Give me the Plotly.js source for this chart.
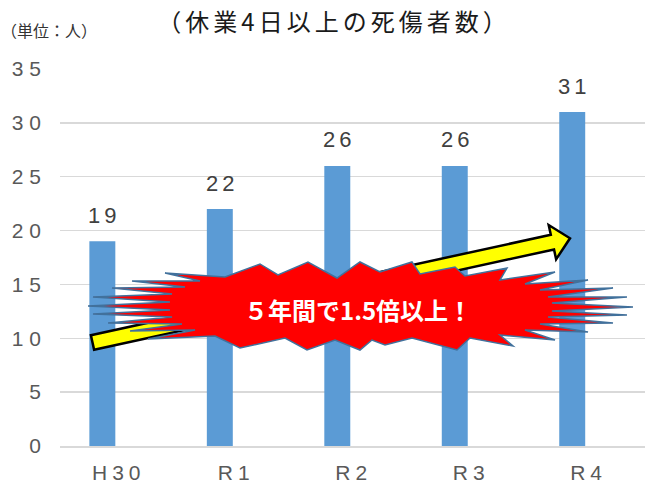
<!DOCTYPE html>
<html><head><meta charset="utf-8">
<script src="https://cdn.plot.ly/plotly-3.0.1.min.js"></script>
<style>
html,body{margin:0;padding:0;background:#fff;}
#chart{width:645px;height:485px;}
.xtick text{letter-spacing:5px;}
.ytick text{letter-spacing:6px;}
.gtitle{letter-spacing:4px;}
</style></head><body><div id="chart"></div>
<script>
const categories = ['H30', 'R1', 'R2', 'R3', 'R4'];
const casualties = [19, 22, 26, 26, 31];
const yTickValues = [0, 5, 10, 15, 20, 25, 30, 35];
const titleText = '（休業4日以上の死傷者数）';
const unitText = '（単位：人）';
const calloutText = '５年間で1.5倍以上！';

// plot-area geometry in pixels, used only for the decorative shapes
const PL = 60, PR = 645, PT = 69, PB = 446;
const px = x => (x - PL) / (PR - PL);
const py = y => (PB - y) / (PB - PT);
function pathFrom(points) {
  return 'M' + points.map(p => px(p[0]).toFixed(4) + ',' + py(p[1]).toFixed(4)).join('L') + 'Z';
}
function arrowPoints(sx, sy, tx, ty, w, h, L) {
  const dx = tx - sx, dy = ty - sy, len = Math.hypot(dx, dy);
  const ux = dx / len, uy = dy / len, nx = -uy, ny = ux;
  const bx = tx - ux * L, by = ty - uy * L;
  return [[sx + nx * w, sy + ny * w], [bx + nx * w, by + ny * w], [bx + nx * h, by + ny * h],
          [tx, ty], [bx - nx * h, by - ny * h], [bx - nx * w, by - ny * w], [sx - nx * w, sy - ny * w]];
}
// starburst outline (pixels), clockwise from the left tip
const burst = [
  [88,306],[170,302],[93,297],[172,294],[112,288],[185,287],[132,281],[200,281],[165,273],[225,277],
  [260,264],[278,275],[308,262],[337,278],[360,262],[380,272],[412,262],[420,274],[455,267],[465,276],
  [507,268],[500,280],[555,272],[525,284],[588,280],[540,290],[613,288],[548,297],[627,297],[552,303],
  [633,307],[552,311],[627,315],[548,317],[613,323],[540,324],[588,332],[525,330],[555,340],[500,335],
  [513,346],[470,338],[457,350],[412,338],[385,345],[372,340],[360,350],[335,340],[307,350],[285,338],
  [240,348],[215,336],[148,339],[195,330],[130,331],[182,324],[108,323],[172,317],[93,314],[170,310]
];

const trace = {
  type: 'bar', x: categories, y: casualties,
  width: 0.221, offset: -0.25,
  marker: {color: '#5B9BD5', line: {width: 0}},
  hoverinfo: 'skip'
};

const labelFont = {family: 'Liberation Sans, Arial, sans-serif', size: 22, color: '#404040'};
const tickFont = {family: 'Liberation Sans, Arial, sans-serif', size: 21, color: '#595959'};

const annotations = categories.map((c, i) => ({
  x: c, y: casualties[i], xref: 'x', yref: 'y',
  text: '<span style="letter-spacing:4px">' + casualties[i] + '</span>',
  showarrow: false, xshift: -14.4, yshift: 26, yanchor: 'middle', font: labelFont
}));
annotations.push({
  x: px(49), y: py(30), xref: 'paper', yref: 'paper', xanchor: 'center', yanchor: 'middle',
  text: unitText, showarrow: false,
  font: {family: 'Noto Sans CJK JP', size: 16, color: '#333333'}
});
annotations.push({
  x: px(357.5), y: py(309), xref: 'paper', yref: 'paper', xanchor: 'center', yanchor: 'middle',
  text: '<b>' + calloutText + '</b>', showarrow: false,
  font: {family: 'Noto Sans CJK JP', size: 24, color: '#ffffff'}
});

const layout = {
  width: 645, height: 485,
  margin: {l: 60, r: 0, t: 69, b: 39, pad: 0},
  paper_bgcolor: '#ffffff', plot_bgcolor: '#ffffff',
  showlegend: false,
  title: {text: titleText, xref: 'container', yref: 'container', x: 334 / 645, xanchor: 'center',
          y: 1 - 22.5 / 485, yanchor: 'middle',
          font: {family: 'Noto Sans CJK JP', size: 24, color: '#1a1a1a'}},
  xaxis: {type: 'category', range: [-0.5, 4.48], showgrid: false, showline: true,
          linecolor: '#d9d9d9', linewidth: 2, ticks: '', tickfont: tickFont,
          ticklabelstandoff: 7, fixedrange: true},
  yaxis: {range: [0, 35], tickmode: 'array', tickvals: yTickValues, showgrid: true,
          gridcolor: '#d9d9d9', gridwidth: 1.5, zeroline: false, showline: false, ticks: '',
          tickfont: tickFont, ticklabelstandoff: 12, fixedrange: true},
  shapes: [
    {type: 'path', xref: 'paper', yref: 'paper', layer: 'above',
     path: pathFrom(arrowPoints(92.5, 342.5, 570, 238.3, 7.5, 17.5, 18)),
     fillcolor: '#FFFF00', line: {color: '#000000', width: 2.5}},
    {type: 'path', xref: 'paper', yref: 'paper', layer: 'above',
     path: pathFrom(burst), fillcolor: '#FF0000', line: {color: '#41719C', width: 1.5}}
  ],
  annotations: annotations
};

Plotly.newPlot('chart', [trace], layout, {displayModeBar: false, staticPlot: true});
</script></body></html>
